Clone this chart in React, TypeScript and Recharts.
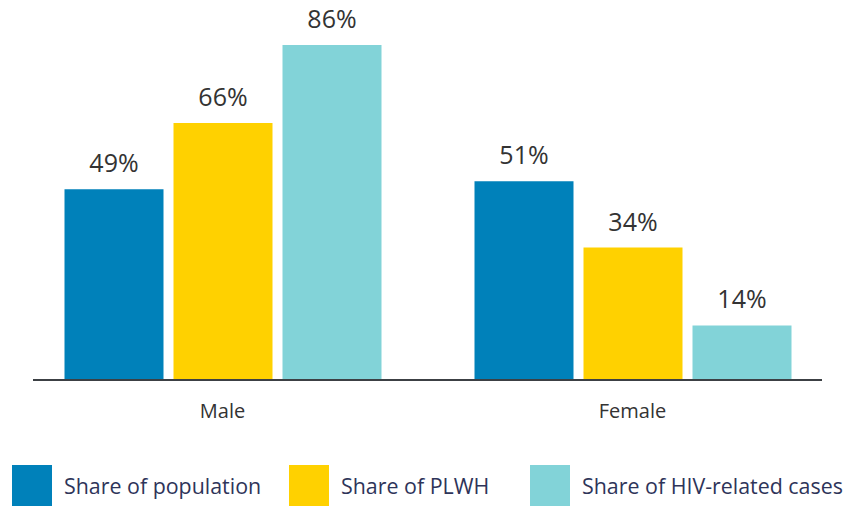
import React from 'react';
import { BarChart, Bar, XAxis, YAxis, LabelList, Legend } from 'recharts';

const categories = ['Male', 'Female'];
const sharePopulation = [49, 51];
const sharePLWH = [66, 34];
const shareHIVCases = [86, 14];

const seriesNames = ['Share of population', 'Share of PLWH', 'Share of HIV-related cases'];
const seriesColors = ['#0081BA', '#FFD100', '#82D3D8'];

const data = categories.map((name, i) => ({
  name,
  population: sharePopulation[i],
  plwh: sharePLWH[i],
  hiv: shareHIVCases[i],
}));

const FONT = '"Open Sans", sans-serif';

// legend squares sit at fixed x positions in the original
const legendLeft = [12, 289, 530];

const renderLegend = () => (
  <div style={{ position: 'relative', width: 845, height: 41, fontFamily: FONT }}>
    {seriesNames.map((n, i) => (
      <div key={n} style={{ position: 'absolute', left: legendLeft[i], top: 0, display: 'flex', alignItems: 'center' }}>
        <div style={{ width: 40, height: 41, background: seriesColors[i] }} />
        <span style={{ marginLeft: 12, fontSize: 21.4, color: '#2E3459', whiteSpace: 'nowrap' }}>{n}</span>
      </div>
    ))}
  </div>
);

const CategoryTick = (props: any) => {
  const { x, y, payload } = props;
  return (
    <text x={x} y={y} dy={38} textAnchor="middle" fill="#333" fontSize={20} fontFamily={FONT}>
      {payload.value}
    </text>
  );
};

const fmt = (v: any) => `${v}%`;

export default function App() {
  return (
    <div style={{ position: 'absolute', left: 0, top: 0, width: 845, height: 506, background: '#fff' }}>
      <BarChart
        width={845}
        height={506}
        data={data}
        margin={{ top: 45, right: 23, left: 33, bottom: 45 }}
        barSize={99}
        barGap={10}
      >
        <XAxis
          dataKey="name"
          padding={{ left: -15.5, right: -15.5 }}
          axisLine={{ stroke: '#3C4044', strokeWidth: 2 }}
          tickLine={false}
          tickSize={0}
          tickMargin={0}
          tick={<CategoryTick />}
          height={40}
        />
        <YAxis hide domain={[0, 86]} />
        <Legend
          verticalAlign="bottom"
          content={renderLegend}
          wrapperStyle={{ left: 0, top: 465, width: 845 }}
        />
        <Bar dataKey="population" name={seriesNames[0]} fill={seriesColors[0]} isAnimationActive={false}>
          <LabelList dataKey="population" position="top" offset={17} formatter={fmt} fill="#333" fontSize={25} fontFamily={FONT} />
        </Bar>
        <Bar dataKey="plwh" name={seriesNames[1]} fill={seriesColors[1]} isAnimationActive={false}>
          <LabelList dataKey="plwh" position="top" offset={17} formatter={fmt} fill="#333" fontSize={25} fontFamily={FONT} />
        </Bar>
        <Bar dataKey="hiv" name={seriesNames[2]} fill={seriesColors[2]} isAnimationActive={false}>
          <LabelList dataKey="hiv" position="top" offset={17} formatter={fmt} fill="#333" fontSize={25} fontFamily={FONT} />
        </Bar>
      </BarChart>
    </div>
  );
}
